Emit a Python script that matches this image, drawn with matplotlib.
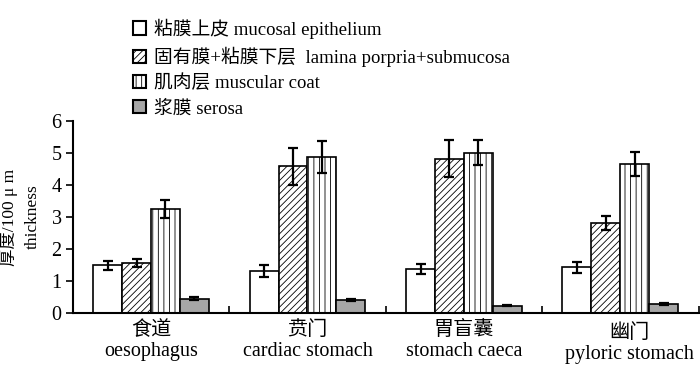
import numpy as np
import matplotlib.pyplot as plt
from matplotlib.patches import Patch

fam = ['Liberation Serif', 'Noto Sans CJK SC']
plt.rcParams['font.family'] = fam
plt.rcParams['hatch.linewidth'] = 0.6

# data
sites = ["食道\noesophagus", "贲门\ncardiac stomach", "胃盲囊\nstomach caeca", "幽门\npyloric stomach"]
layers = ["粘膜上皮 mucosal epithelium", "固有膜+粘膜下层  lamina porpria+submucosa",
          "肌肉层 muscular coat", "浆膜 serosa"]
epith = [1.50, 1.33, 1.38, 1.43]
epith_err = [0.14, 0.19, 0.15, 0.16]
lamina = [1.57, 4.58, 4.82, 2.82]
lamina_err = [0.12, 0.57, 0.57, 0.22]
muscle = [3.25, 4.88, 5.01, 4.66]
muscle_err = [0.29, 0.50, 0.38, 0.38]
serosa = [0.46, 0.42, 0.24, 0.29]
serosa_err = [0.06, 0.03, 0.02, 0.04]

vals = [epith, lamina, muscle, serosa]
errs = [epith_err, lamina_err, muscle_err, serosa_err]
faces = ['white', 'white', 'white', '#a6a6a6']
hatches = [None, '/////', '|||', None]

fig = plt.figure(figsize=(7, 3.66), dpi=100)
ax = fig.add_axes([0.104, 0.144, 0.894, 0.526])

x = np.arange(len(sites))
w = 0.185
for i in range(4):
    pos = x + (i - 1.5) * w
    ax.bar(pos, vals[i], w, color=faces[i], edgecolor='black', linewidth=1.2,
           hatch=hatches[i], zorder=2)
    ax.errorbar(pos, vals[i], yerr=errs[i], fmt='none', ecolor='black',
                elinewidth=1.6, capsize=3.5, capthick=1.6, zorder=3)

ax.set_xlim(-0.5, 3.5)
ax.set_ylim(0, 6)
ax.set_yticks(range(7))
ax.set_xticks([0.5, 1.5, 2.5, 3.5])
ax.set_xticklabels([])
ax.tick_params(axis='x', direction='in', length=5, width=1.2)
ax.tick_params(axis='y', direction='out', length=5, width=1.2, labelsize=14.5, pad=3)
for s in ['top', 'right']:
    ax.spines[s].set_visible(False)
for s in ['left', 'bottom']:
    ax.spines[s].set_linewidth(1.5)

for i, lab in enumerate(sites):
    dx, dy = (0, 0)
    if i == 3:
        dx, dy = (0.055, -0.015)
    ax.text(x[i] + dx, -0.04 + dy, lab, transform=ax.get_xaxis_transform(),
            ha='center', va='top', fontsize=14.5, linespacing=1.15)

ax.set_ylabel("厚度/100 μ m\nthickness", fontsize=12.5, linespacing=1.55, labelpad=8)

handles = [Patch(facecolor=faces[i], edgecolor='black', hatch=hatches[i], linewidth=1.5)
           for i in range(4)]
fig.legend(handles, layers, loc='upper left', bbox_to_anchor=(0.19, 0.95),
           frameon=False, fontsize=13.5, handlelength=0.7, handleheight=0.7,
           handletextpad=0.4, labelspacing=0.42, borderpad=0, borderaxespad=0)

fig.savefig('out.png', dpi=100)
